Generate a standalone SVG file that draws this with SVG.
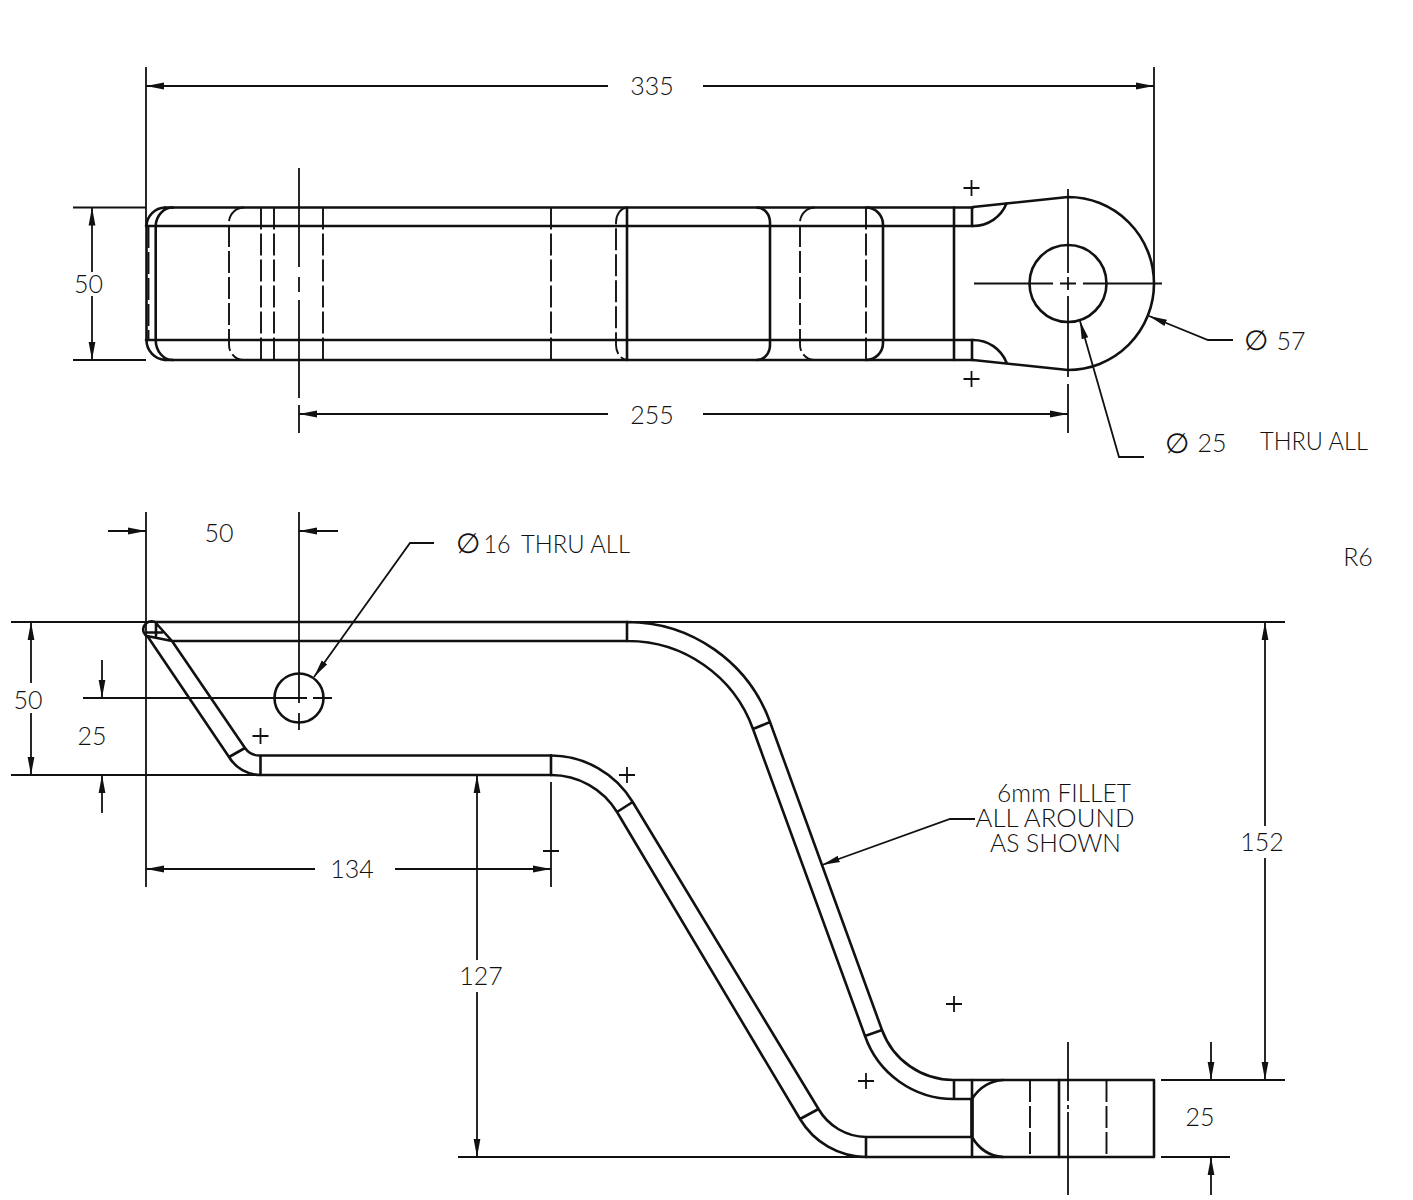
<svg xmlns="http://www.w3.org/2000/svg" width="1413" height="1200" viewBox="0 0 1413 1200">
<style>
.p{fill:none;stroke:#111;stroke-width:2.6;stroke-linecap:round;stroke-linejoin:round}
.d{fill:none;stroke:#111;stroke-width:1.8}
.h{fill:none;stroke:#111;stroke-width:1.9;stroke-dasharray:22 4}
.a{marker-end:url(#ah)}
text{font-family:"Lato","Liberation Sans",sans-serif;font-weight:300;font-size:25px;fill:#111;text-anchor:middle}
.s{font-family:"DejaVu Sans",sans-serif;font-weight:200;font-size:28px}
</style>
<defs>
<marker id="ah" markerUnits="userSpaceOnUse" markerWidth="20" markerHeight="10" refX="18" refY="5" orient="auto"><path d="M0 1.6 L18 5 L0 8.4Z" fill="#111"/></marker>
</defs>
<rect width="1413" height="1200" fill="#fff"/>
<g id="top-view">
<path class="p" d="M165 207.5H973M146 226H973M146 340H973M165 360H973"/>
<path class="p" d="M165 207.5A19 19 0 0 0 146.5 226V340A20 20 0 0 0 165 360M173 207.5A17 19 0 0 0 155.7 226V340A17 20 0 0 0 173 360"/>
<path class="h" d="M148.5 226V340M261 207.5V360M274 207.5V360M323 207.5V360M551 207.5V360M866 207.5V360"/>
<path class="h" d="M244 207.5A15 15 0 0 0 229 222.5V345A15 15 0 0 0 244 360M627 207.5A12 15 0 0 0 616 222.5V345A12 15 0 0 0 627 360M815 207.5A15 15 0 0 0 800 222.5V345A15 15 0 0 0 815 360"/>
<path class="p" d="M627 207.5V360M757 207.5A13 15 0 0 1 770 222.5V345A13 15 0 0 1 757 360M866 207.5A17 17 0 0 1 883 224.5V343A17 17 0 0 1 866 360"/>
<path class="p" d="M954 207.5V360M972 207.5V226M972 340V360"/>
<path class="p" d="M973 207L1068 197A86 86.5 0 0 1 1068 370L973 360"/>
<path class="p" d="M973 226C988 226 1001 217 1006.5 203.5M973 340C988 340 1001 349 1006.5 362.5"/>
<circle class="p" cx="1068" cy="283.5" r="38.5"/>
<path class="d" d="M974 283.5H1053M1060 283.5H1076M1083 283.5H1162M1068 189V273M1068 277V290M1068 296V377M1068 384V433M299 168V267M299 277V292M299 300V398M299 405V433"/>
<path class="d" d="M971.5 180V196M963.5 188H979.5M971.5 371V387M963.5 379H979.5"/>
</g>
<g id="side-view">
<path class="p" d="M155 622H627M172 641H627M147 636L172 641M155 622L172 641L245 748A18 18 0 0 0 260.5 755.5H551M148 637L229 757A37 37 0 0 0 260.5 775H551M229 757L245 748M260.5 755.5V775M155 622A8 8 0 0 0 148 637M156 622V637M147 632.5H162"/>
<circle class="p" cx="299" cy="698" r="24.5"/>
<path class="p" d="M551 755.5V775M627 622V641M627 622A152 152 0 0 1 770 722L882 1030A76 76 0 0 0 954 1080H1154V1157H866M627 641A133 133 0 0 1 753 729L865 1036A94 94 0 0 0 954 1099H972M753 729L770 722M865 1036L882 1030M954 1080V1099"/>
<path class="p" d="M551 755.5A96 96 0 0 1 632.7 802L818.5 1109A56 56 0 0 0 866 1137H972M551 775A77 77 0 0 1 617 812L800 1119A78 78 0 0 0 866 1157M617 812L632.7 802M800 1119L818.5 1109M866 1137V1157"/>
<path class="p" d="M972 1080V1157M1003 1080C988 1081 979 1088 972 1099M1003 1157C988 1156 979 1149 972 1137"/>
<path class="p" style="stroke-width:3.6" d="M972 1099V1137"/>
<path class="p" d="M1059 1080V1157"/>
<path class="h" d="M1030 1080V1157M1106.5 1080V1157"/>
<path class="d" d="M1068 1042V1101M1068 1105V1109M1068 1112V1195M83 698H307M313 698H332M299 713V730"/>
<path class="d" d="M260.5 728V744M252.5 736H268.5M627 767V783M619 775H635M543 851H559M954 996V1012M946 1004H962M866 1073V1089M858 1081H874"/>
</g>
<g id="connectors">
<path class="d" d="M146 67V226M1154 67V283M73 207.5H146M73 360H146M11 622H155M627 622H1285M11 775H260M146 512V887M299 512V703M551 782V887M458 1157H866M1161 1080H1285M1161 1157H1230"/>
<path class="d a" d="M608 86H146"/><path class="d a" d="M703 86H1154"/>
<path class="d a" d="M608 414H299"/><path class="d a" d="M703 414H1068"/>
<path class="d a" d="M92 272V207.5"/><path class="d a" d="M92 296V360"/>
<path class="d a" d="M1233 340H1208L1149 316"/>
<path class="d a" d="M1144 457H1119L1080 321"/>
<path class="d a" d="M108 531H146"/><path class="d a" d="M338 531H299"/>
<path class="d a" d="M434 543H410L314 677"/>
<path class="d a" d="M31 683V622"/><path class="d a" d="M31 713V775"/>
<path class="d a" d="M102 660V698"/><path class="d a" d="M102 813V775"/>
<path class="d a" d="M315 869H146"/><path class="d a" d="M395 869H551"/>
<path class="d a" d="M477 960V775"/><path class="d a" d="M477 992V1157"/>
<path class="d a" d="M1265 826V622"/><path class="d a" d="M1265 858V1080"/>
<path class="d a" d="M1211 1042V1080"/><path class="d a" d="M1211 1195V1157"/>
<path class="d a" d="M975 819H950L822 865"/>
</g>
<g id="labels">
<text x="652" y="95">335</text>
<text x="652" y="424">255</text>
<text x="88.5" y="293">50</text>
<text class="s" x="1256" y="350">∅</text><text x="1291" y="350">57</text>
<text class="s" x="1177" y="453">∅</text><text x="1212" y="452">25</text>
<text x="1314" y="450" textLength="108" lengthAdjust="spacingAndGlyphs">THRU ALL</text>
<text x="219" y="542">50</text>
<text class="s" x="468" y="553">∅</text><text x="497" y="553" textLength="27" lengthAdjust="spacingAndGlyphs">16</text>
<text x="575.5" y="553" textLength="109" lengthAdjust="spacingAndGlyphs">THRU ALL</text>
<text x="1358" y="566">R6</text>
<text x="28" y="709">50</text>
<text x="92" y="745">25</text>
<text x="352" y="878">134</text>
<text x="481" y="985">127</text>
<text x="1262" y="851">152</text>
<text x="1200" y="1126">25</text>
<text x="1064" y="802" textLength="134" lengthAdjust="spacingAndGlyphs">6mm FILLET</text>
<text x="1055" y="827" textLength="159" lengthAdjust="spacingAndGlyphs">ALL AROUND</text>
<text x="1055.5" y="852" textLength="131" lengthAdjust="spacingAndGlyphs">AS SHOWN</text>
</g>
</svg>
